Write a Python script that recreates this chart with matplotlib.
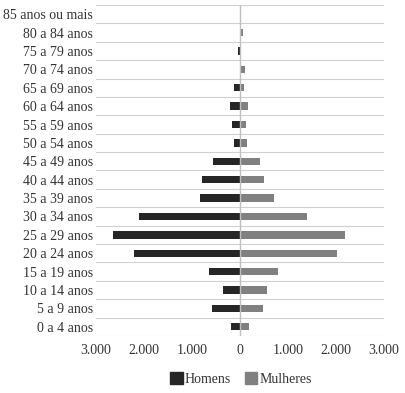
import matplotlib
matplotlib.use("Agg")
from matplotlib import pyplot as plt
from matplotlib.ticker import FixedLocator, FuncFormatter
from matplotlib.patches import Patch
import numpy as np

plt.rcParams["font.family"] = ["Liberation Serif", "DejaVu Serif"]

age_groups = [
    "0 a 4 anos", "5 a 9 anos", "10 a 14 anos", "15 a 19 anos",
    "20 a 24 anos", "25 a 29 anos", "30 a 34 anos", "35 a 39 anos",
    "40 a 44 anos", "45 a 49 anos", "50 a 54 anos", "55 a 59 anos",
    "60 a 64 anos", "65 a 69 anos", "70 a 74 anos", "75 a 79 anos",
    "80 a 84 anos", "85 anos ou mais",
]
homens = [195, 585, 355, 640, 2215, 2640, 2100, 830, 790, 560, 125, 165,
          210, 125, 0, 40, 0, 10]
mulheres = [195, 485, 570, 785, 2030, 2195, 1395, 700, 490, 410, 145, 125,
            170, 85, 100, 0, 60, 10]
x_ticks = [-3000, -2000, -1000, 0, 1000, 2000, 3000]

DARK = "#262626"
GRAY = "#808080"

fig = plt.figure(figsize=(4.06, 3.93), dpi=100)
ax = fig.add_axes([96 / 406, 57 / 393, 288 / 406, 331 / 393])

y = np.arange(len(age_groups))
ax.barh(y, -np.array(homens), height=0.4, color=DARK, zorder=3)
ax.barh(y, mulheres, height=0.4, color=GRAY, zorder=3)

ax.set_xlim(-3000, 3000)
ax.set_ylim(-0.5, len(age_groups) - 0.5)

ax.set_yticks(y)
ax.set_yticklabels(age_groups, fontsize=10, color="#333333")
ax.yaxis.set_minor_locator(FixedLocator(np.arange(-0.5, len(age_groups), 1)))
ax.grid(which="minor", axis="y", color="#d0d0d0", linewidth=0.8, zorder=0)
ax.tick_params(axis="y", which="both", length=0, pad=2)

ax.xaxis.set_major_locator(FixedLocator(x_ticks))
ax.xaxis.set_major_formatter(
    FuncFormatter(lambda v, p: f"{abs(int(v)):,}".replace(",", "."))
)
ax.tick_params(axis="x", length=0, labelsize=10, labelcolor="#333333", pad=6)

ax.axvline(0, color="#bfbfbf", linewidth=1.0, zorder=4)
for s in ax.spines.values():
    s.set_visible(False)

handles = [Patch(color=DARK, label="Homens"), Patch(color=GRAY, label="Mulheres")]
fig.legend(handles=handles, loc="center", bbox_to_anchor=(241 / 406, 1 - 379 / 393),
           ncol=2, frameon=False, fontsize=10, handlelength=0.9, handleheight=0.9,
           handletextpad=0.15, columnspacing=1.0, labelcolor="#333333")

fig.savefig("out.png", dpi=100)
